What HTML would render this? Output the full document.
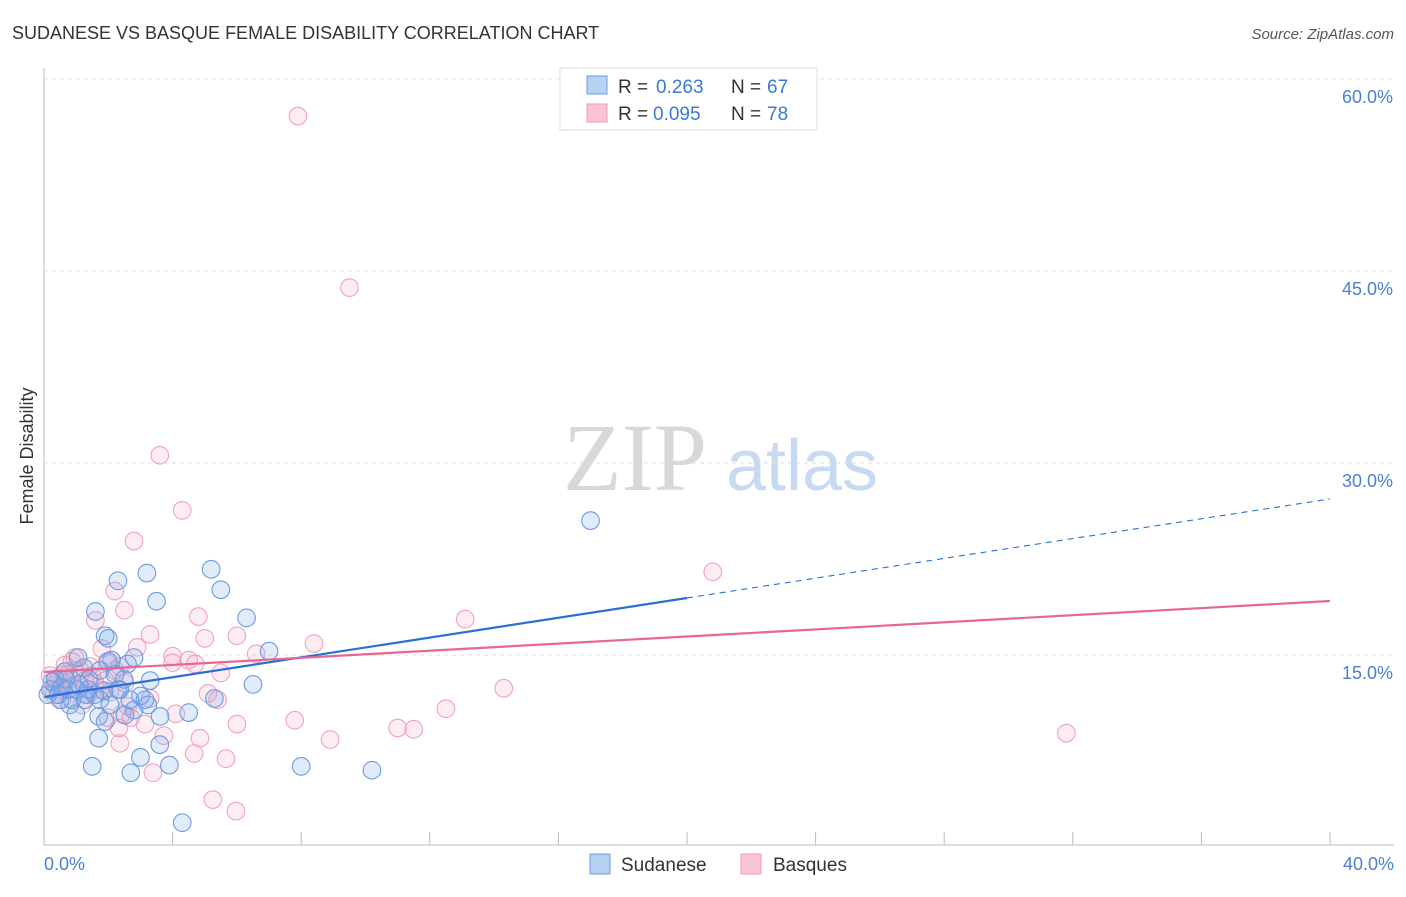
<!DOCTYPE html>
<html><head><meta charset="utf-8"><style>
body{margin:0;background:#fff;font-family:"Liberation Sans",sans-serif}
</style></head><body>
<svg id="c" width="1406" height="892" font-family="Liberation Sans, sans-serif">
<text x="12" y="39" font-size="18" fill="#333">SUDANESE VS BASQUE FEMALE DISABILITY CORRELATION CHART</text>
<text x="1394" y="39" font-size="15" fill="#555" font-style="italic" text-anchor="end">Source: ZipAtlas.com</text>
<text x="33" y="456" font-size="18" fill="#333" transform="rotate(-90 33 456)" text-anchor="middle">Female Disability</text>
<text x="635" y="490" font-size="96" fill="#d8d8d8" style="font-family:'Liberation Serif',serif" text-anchor="middle">ZIP</text>
<text x="802" y="490" font-size="72" fill="#c8daf2" text-anchor="middle">atlas</text>
<g id="grid"></g><g id="pts"></g><g id="lines"></g>
<line x1="44" y1="68" x2="44" y2="845" stroke="#bbb"/>
<line x1="44" y1="845" x2="1394" y2="845" stroke="#bbb"/>
<text x="44" y="870" font-size="18" fill="#4a7fd4">0.0%</text>
<text x="1394" y="870" font-size="18" fill="#4a7fd4" text-anchor="end">40.0%</text>
<g>
<rect x="560" y="68" width="257" height="62" fill="#fff" stroke="#ddd"/>
<rect x="587" y="76" width="20" height="18" fill="#b7d1f3" stroke="#6b9be0"/>
<rect x="587" y="104" width="20" height="18" fill="#f9c5d5" stroke="#ef9ab5"/>
<text x="618" y="93" font-size="19" fill="#333">R =</text><text x="656" y="93" font-size="19" fill="#3b78d8">0.263</text>
<text x="731" y="93" font-size="19" fill="#333">N =</text><text x="767" y="93" font-size="19" fill="#3b78d8">67</text>
<text x="618" y="120" font-size="19" fill="#333">R =</text><text x="653" y="120" font-size="19" fill="#3b78d8">0.095</text>
<text x="731" y="120" font-size="19" fill="#333">N =</text><text x="767" y="120" font-size="19" fill="#3b78d8">78</text>
</g>
<g>
<rect x="590" y="854" width="20" height="20" fill="#b7d1f3" stroke="#6b9be0"/>
<text x="621" y="871" font-size="19" fill="#333">Sudanese</text>
<rect x="741" y="854" width="20" height="20" fill="#f9c5d5" stroke="#ef9ab5"/>
<text x="773" y="871" font-size="19" fill="#333">Basques</text>
</g>
</svg>
<script>
const yTicks=[15,30,45,60];
const xTickCount=10;
const blueTrend=[11.72,27.19];
const pinkTrend=[13.67,19.22];
const blueSplit=20;
const sudX=[17.0,3.2,2.3,5.2,3.5,5.5,1.6,6.3,1.9,2.0,7.0,2.8,2.1,2.6,2.0,3.3,6.5,2.3,5.3,3.0,4.5,1.3,1.7,1.9,2.8,1.7,3.6,3.0,3.9,1.5,2.7,8.0,10.2,4.3,0.5,0.8,1.0,0.35,0.65,1.1,1.4,0.2,0.12,0.55,0.87,1.27,1.58,2.05,2.36,2.67,1.24,1.06,0.75,0.25,0.44,0.68,1.74,1.87,1.37,2.49,2.21,3.14,2.52,3.23,3.61,1.74,0.99];
const sudY=[25.5,21.4,20.8,21.7,19.2,20.1,18.4,17.9,16.5,16.3,15.3,14.8,14.6,14.3,14.5,13.0,12.7,12.3,11.6,11.8,10.5,11.9,10.2,9.8,10.7,8.5,8.0,7.0,6.4,6.3,5.8,6.3,6.0,1.9,11.5,11.1,12.3,13.1,13.7,12.7,13.1,12.3,11.9,12.5,11.5,11.5,11.9,11.1,12.3,11.5,14.0,14.8,12.3,12.9,11.9,13.1,13.8,12.2,12.3,13.1,13.5,11.5,10.3,11.1,10.2,11.5,10.4];
const basX=[7.9,9.5,3.6,4.3,2.8,20.8,2.2,2.5,4.8,1.6,3.3,6.0,5.0,2.9,8.4,13.1,1.8,4.0,6.6,4.5,4.7,4.0,0.96,1.96,5.5,14.3,5.1,5.4,3.3,2.05,7.8,6.0,4.1,3.14,2.43,2.61,2.7,1.99,2.33,11.0,11.5,12.5,31.8,8.9,3.73,4.85,2.36,5.66,4.67,3.39,5.25,5.97,1.27,0.96,0.65,0.34,0.19,0.5,0.81,1.12,1.43,1.59,1.74,0.56,0.75,1.37,0.44,1.06,1.49,1.9,2.21,2.52,1.18,0.87,0.62,0.31,2.36];
const basY=[57.1,43.7,30.6,26.3,23.9,21.5,20.0,18.5,18.0,17.7,16.6,16.5,16.3,15.6,15.9,17.8,15.5,14.9,15.1,14.6,14.3,14.4,14.8,14.4,13.6,12.4,12.0,11.5,11.6,12.1,9.9,9.6,10.4,9.6,10.4,11.0,10.1,10.1,9.3,9.3,9.2,10.8,8.9,8.4,8.7,8.5,8.1,6.9,7.3,5.8,3.7,2.8,13.0,13.8,14.2,12.7,13.4,12.3,13.1,13.8,14.1,12.8,12.3,11.5,13.5,11.9,13.2,12.3,13.4,13.0,13.8,12.8,11.1,14.5,13.5,11.9,14.1];
const X0=44,X1=1330,Y0=847,PX=192/15;
const sx=v=>X0+(X1-X0)*v/40, sy=v=>Y0-v*PX;
const NS='http://www.w3.org/2000/svg';
const mk=(t,a,p)=>{const e=document.createElementNS(NS,t);for(const k in a)e.setAttribute(k,a[k]);p.appendChild(e);return e;};
const g=document.getElementById('grid');
yTicks.forEach(v=>{
 const l=mk('line',{x1:44,x2:1394,y1:sy(v),y2:sy(v),stroke:'#ddd','stroke-dasharray':'4,4'},g);
 
 
 const t=mk('text',{x:1393,y:sy(v)+24,'font-size':18,fill:'#4a7fd4','text-anchor':'end'},g);
 t.textContent=v.toFixed(1)+'%';
 
 
});
for(let i=0;i<=xTickCount;i++){
 const x=sx(40*i/xTickCount);
 const l=mk('line',{x1:x,x2:x,y1:832,y2:845,stroke:'#bbb'},g);
 
 
}
const pg=document.getElementById('pts');
basX.forEach((v,i)=>{
 const c=mk('circle',{cx:sx(v),cy:sy(basY[i]),r:8.8,fill:'rgba(244,160,188,0.2)',stroke:'#f2a2bc','stroke-width':1.1},pg);
 
 
});
sudX.forEach((v,i)=>{
 const c=mk('circle',{cx:sx(v),cy:sy(sudY[i]),r:8.8,fill:'rgba(120,168,235,0.22)',stroke:'#6b9be2','stroke-width':1.1},pg);
 
 
});
const lg=document.getElementById('lines');
const by=x=>blueTrend[0]+(blueTrend[1]-blueTrend[0])*x/40;
let l1=mk('line',{x1:sx(0),y1:sy(by(0)),x2:sx(blueSplit),y2:sy(by(blueSplit)),stroke:'#2a6fd6','stroke-width':2.2},lg);


let l2=mk('line',{x1:sx(blueSplit),y1:sy(by(blueSplit)),x2:sx(40),y2:sy(by(40)),stroke:'#2a6fd6','stroke-width':1.1,'stroke-dasharray':'6,5'},lg);


let l3=mk('line',{x1:sx(0),y1:sy(pinkTrend[0]),x2:sx(40),y2:sy(pinkTrend[1]),stroke:'#e8668f','stroke-width':2.2},lg);


</script>
</body></html>
